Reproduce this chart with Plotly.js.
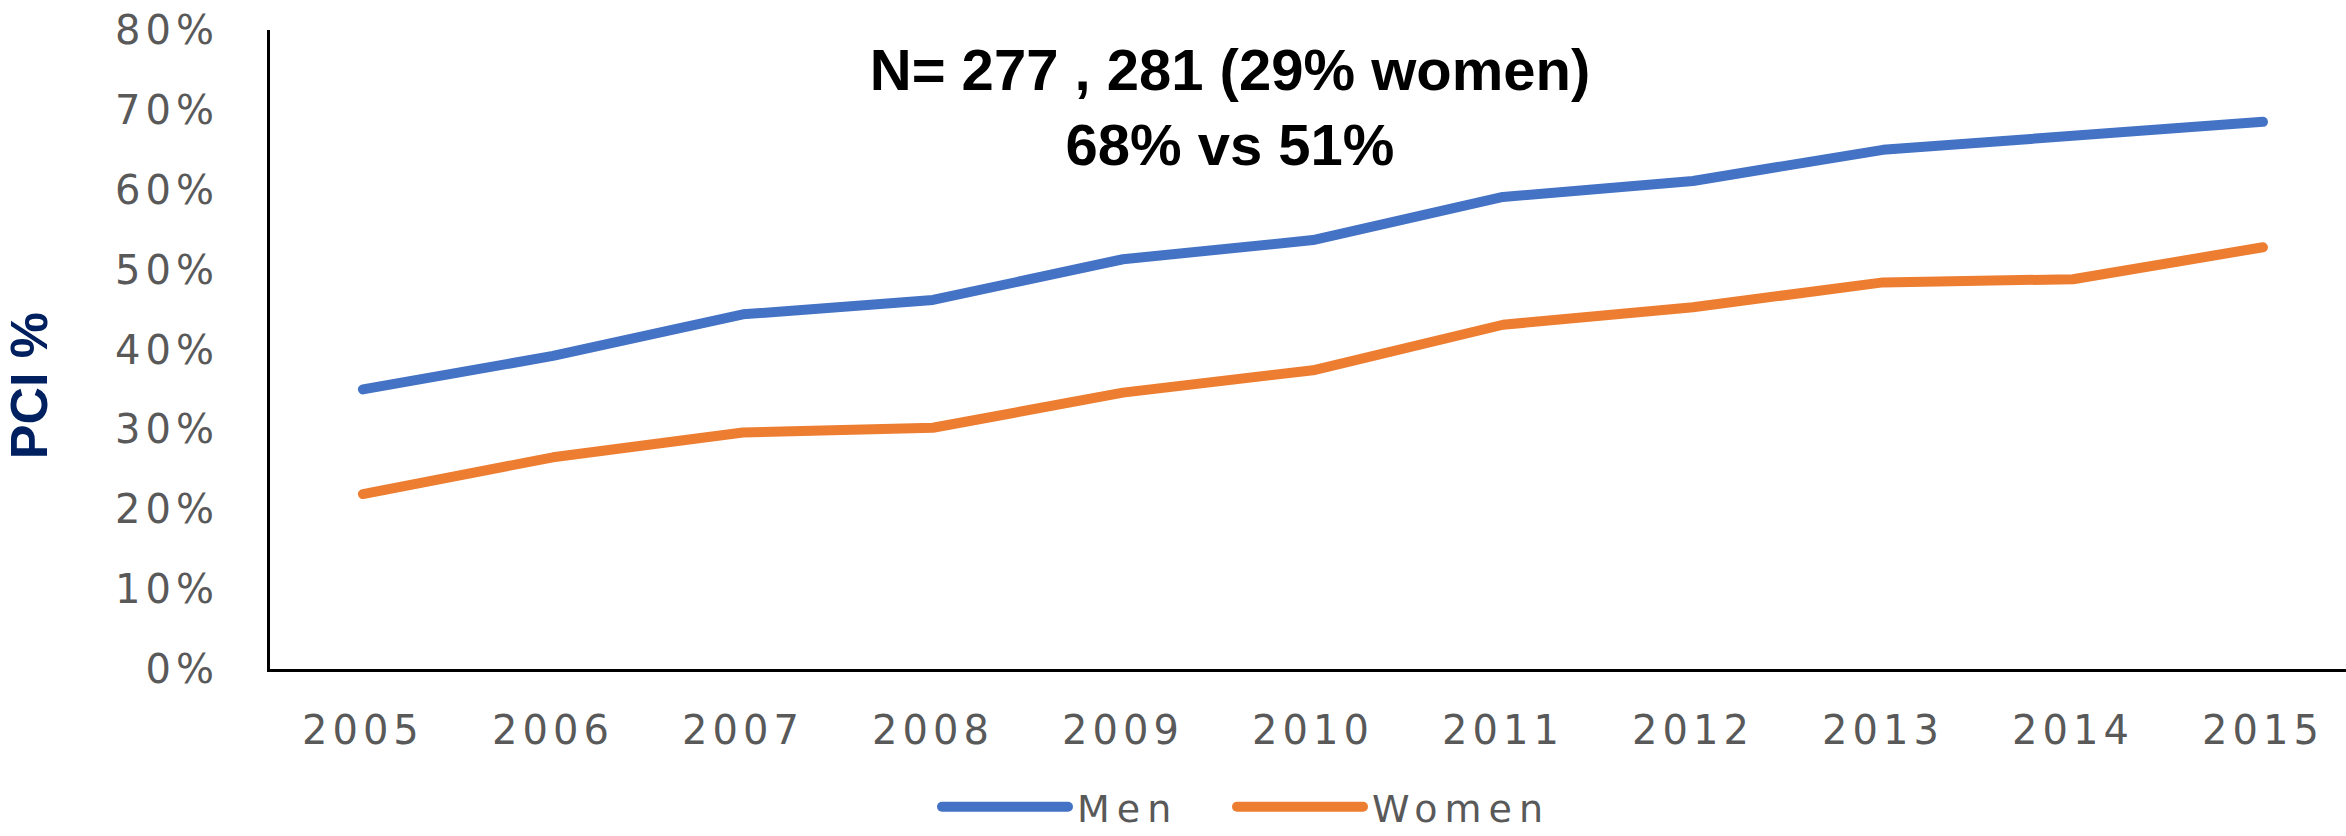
<!DOCTYPE html>
<html>
<head>
<meta charset="utf-8">
<script src="https://cdn.plot.ly/plotly-3.0.1.min.js"></script>
<style>
  html, body { margin: 0; padding: 0; background: #ffffff; }
  #chart { width: 2346px; height: 836px; }
  .xtick text, .ytick text { letter-spacing: 5px; }
  .legendtext { letter-spacing: 7px; }
  .scatterlayer .js-line, .legendlines path { stroke-linecap: round; stroke-linejoin: round; }
</style>
</head>
<body>
<div id="chart"></div>
<script>
// ---- data ----
const years = ["2005","2006","2007","2008","2009","2010","2011","2012","2013","2014","2015"];
const menPCI   = [35.0, 39.2, 44.4, 46.2, 51.3, 53.7, 59.1, 61.1, 65.0, 66.8, 68.5];
const womenPCI = [21.9, 26.5, 29.6, 30.2, 34.6, 37.4, 43.1, 45.3, 48.4, 48.8, 52.8];
const seriesNames = ["Men", "Women"];
const titleLines = ["N= 277 , 281 (29% women)", "68% vs 51%"];
const yTitle = "PCI %";

const tickFont = { family: "DejaVu Sans, Verdana, sans-serif", size: 40, color: "#595959" };
const legendFont = { family: "DejaVu Sans, Verdana, sans-serif", size: 38, color: "#595959" };

const traces = [
  { x: years, y: menPCI, name: seriesNames[0], type: "scatter", mode: "lines",
    line: { color: "#4472C4", width: 10 } },
  { x: years, y: womenPCI, name: seriesNames[1], type: "scatter", mode: "lines",
    line: { color: "#ED7D31", width: 10 } }
];

const layout = {
  width: 2346, height: 836,
  paper_bgcolor: "#ffffff", plot_bgcolor: "#ffffff",
  margin: { l: 270, r: 0, t: 30, b: 167, autoexpand: false },
  title: {
    text: titleLines.join("<br>"),
    font: { family: "Liberation Sans, Arial, sans-serif", size: 58, color: "#000000", weight: "bold" },
    xref: "container", x: 1230 / 2346, xanchor: "center",
    yref: "container", y: 1 - 90 / 836, yanchor: "top"
  },
  xaxis: {
    type: "category",
    range: [-0.489, 10.437],
    showline: true, linecolor: "#000000", linewidth: 3,
    showgrid: false, zeroline: false, ticks: "",
    tickfont: tickFont, ticklabelstandoff: 24,
    fixedrange: true
  },
  yaxis: {
    range: [0, 80], dtick: 10, tick0: 0, ticksuffix: "%",
    showline: true, linecolor: "#000000", linewidth: 3,
    showgrid: false, zeroline: false, ticks: "",
    tickfont: tickFont, ticklabelstandoff: 40,
    title: {
      text: yTitle + "\u00a0\u00a0\u00a0\u00a0\u00a0\u200b",
      font: { family: "Liberation Sans, Arial, sans-serif", size: 52, color: "#002060", weight: "bold" },
      standoff: 52
    },
    fixedrange: true
  },
  showlegend: true,
  legend: {
    orientation: "h",
    xref: "container", x: 1037 / 2346, xanchor: "left",
    yref: "container", y: (836 - 807) / 836, yanchor: "middle",
    font: legendFont,
    entrywidth: 250, entrywidthmode: "pixels",
    bgcolor: "rgba(0,0,0,0)", borderwidth: 0
  },
  hovermode: false
};

Plotly.newPlot("chart", traces, layout, { displayModeBar: false, staticPlot: true }).then(function (gd) {
  // let the long legend swatches extend past the legend box, as in the reference
  gd.querySelectorAll(".legend .scrollbox, .legend").forEach(function (e) {
    e.removeAttribute("clip-path");
  });
  gd.querySelectorAll(".legendlines path").forEach(function (p) {
    p.setAttribute("d", "M-95,0h126");
  });
});
</script>
</body>
</html>
